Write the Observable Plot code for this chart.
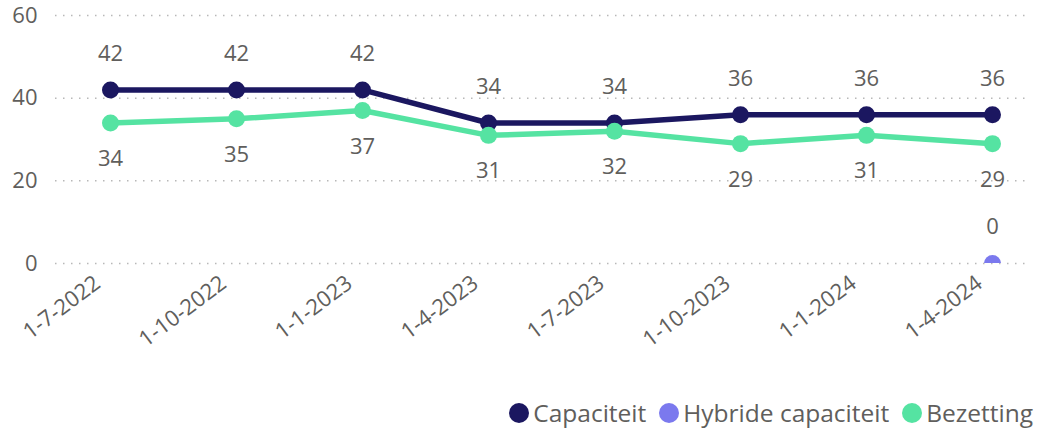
<!DOCTYPE html>
<html>
<head>
<meta charset="utf-8">
<script src="https://cdn.jsdelivr.net/npm/d3@7"></script>
<script src="https://cdn.jsdelivr.net/npm/@observablehq/plot@0.6"></script>
<style>
  html, body { margin: 0; padding: 0; background: #fff; }
  body { width: 1040px; height: 433px; position: relative; overflow: hidden; font-family: "Open Sans", "Noto Sans", sans-serif; }
  #chart { position: absolute; left: 0; top: 0; }
  #legend { position: absolute; right: 7px; top: 396px; display: flex; align-items: center; color: #605e5c; font-size: 24.5px; white-space: nowrap; }
  .item { display: flex; align-items: center; margin-left: 13px; }
  .sw { width: 20px; height: 20px; border-radius: 50%; margin-right: 4px; }
</style>
</head>
<body>
<div id="chart"></div>
<div id="legend"></div>
<script>
const dates = ["1-7-2022","1-10-2022","1-1-2023","1-4-2023","1-7-2023","1-10-2023","1-1-2024","1-4-2024"];
const capaciteit = [42,42,42,34,34,36,36,36];
const bezetting = [34,35,37,31,32,29,31,29];
const hybrideDates = ["1-4-2024"];
const hybride = [0];
const seriesNames = ["Capaciteit","Hybride capaciteit","Bezetting"];
const seriesColors = ["#1b1760","#7b79ee","#55e3a2"];
const yTicks = [0,20,40,60];

const capData = dates.map((d,i) => ({date: d, value: capaciteit[i]}));
const bezData = dates.map((d,i) => ({date: d, value: bezetting[i]}));
const hybData = hybrideDates.map((d,i) => ({date: d, value: hybride[i]}));

const textColor = "#605e5c";

const chart = Plot.plot({
  width: 1040,
  height: 390,
  marginLeft: 55,
  marginRight: 10,
  marginTop: 15,
  marginBottom: 127,
  style: {fontFamily: '"Open Sans", "Noto Sans", sans-serif', background: "#fff", fontSize: "22px"},
  x: {type: "point", domain: dates, padding: 0, insetLeft: 53, insetRight: 36, label: null},
  y: {domain: [0,60], label: null},
  marks: [
    Plot.gridY(yTicks, {stroke: "#b8b8b8", strokeOpacity: 1, strokeWidth: 1.5, strokeDasharray: "1.5,6.5"}),
    Plot.axisY(yTicks, {tickSize: 0, tickPadding: 18, fontSize: 22, fill: textColor, label: null}),
    Plot.axisX({tickSize: 0, tickRotate: -37, fontSize: 22, fill: textColor, tickPadding: 17, dx: -13, label: null}),
    Plot.line(capData, {x: "date", y: "value", stroke: seriesColors[0], strokeWidth: 5.5}),
    Plot.line(bezData, {x: "date", y: "value", stroke: seriesColors[2], strokeWidth: 5.5}),
    Plot.dot(capData, {x: "date", y: "value", fill: seriesColors[0], r: 8.5}),
    Plot.dot(bezData, {x: "date", y: "value", fill: seriesColors[2], r: 8.5}),
    Plot.dot(hybData, {x: "date", y: "value", fill: seriesColors[1], r: 8.5, clip: true}),
    Plot.text(capData, {x: "date", y: "value", text: d => String(d.value), dy: -36, fontSize: 22, fill: textColor}),
    Plot.text(bezData, {x: "date", y: "value", text: d => String(d.value), dy: 36, fontSize: 22, fill: textColor}),
    Plot.text(hybData, {x: "date", y: "value", text: d => String(d.value), dy: -37, fontSize: 22, fill: textColor})
  ]
});
document.getElementById("chart").appendChild(chart);

const legend = document.getElementById("legend");
seriesNames.forEach((name, i) => {
  const it = document.createElement("div");
  it.className = "item";
  const sw = document.createElement("div");
  sw.className = "sw";
  sw.style.background = seriesColors[i];
  const lb = document.createElement("span");
  lb.textContent = name;
  it.appendChild(sw);
  it.appendChild(lb);
  legend.appendChild(it);
});
</script>
</body>
</html>
